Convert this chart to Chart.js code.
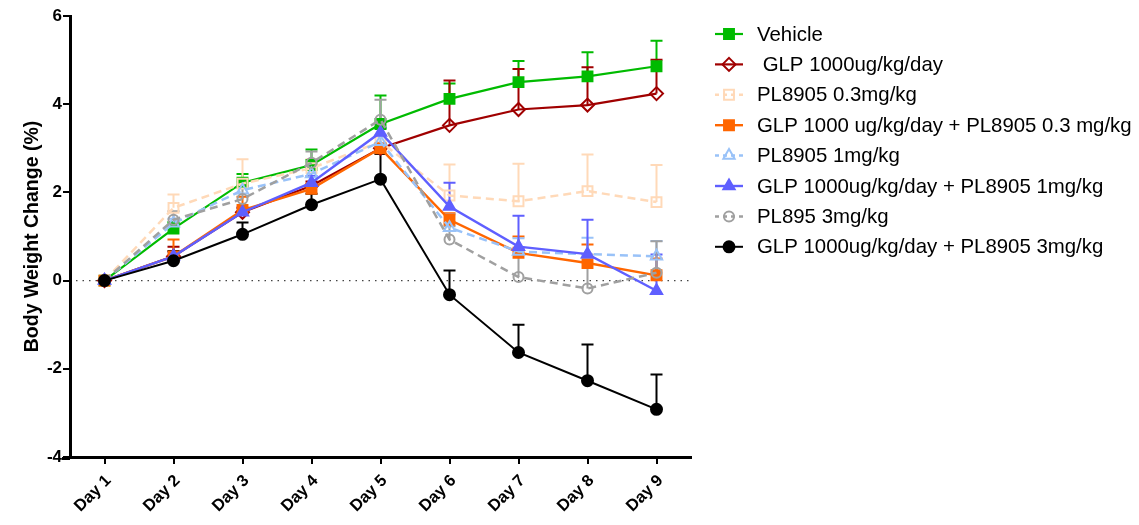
<!DOCTYPE html>
<html><head><meta charset="utf-8">
<script src="https://cdn.jsdelivr.net/npm/chart.js@4/dist/chart.umd.min.js"></script>
<style>html,body{margin:0;padding:0;background:#fff;}#wrap{width:1139px;height:525px;position:relative;}</style>
</head><body><div id="wrap"><canvas id="c" width="1139" height="525"></canvas></div>
<script>
// ---- data ----
const categories = ['Day 1','Day 2','Day 3','Day 4','Day 5','Day 6','Day 7','Day 8','Day 9'];
const seriesNames = ['Vehicle',' GLP 1000ug/kg/day','PL8905 0.3mg/kg','GLP 1000 ug/kg/day + PL8905 0.3 mg/kg','PL8905 1mg/kg','GLP 1000ug/kg/day + PL8905 1mg/kg','PL895 3mg/kg','GLP 1000ug/kg/day + PL8905 3mg/kg'];
const vehicle      = [0, 1.18, 2.22, 2.62, 3.55, 4.12, 4.50, 4.63, 4.86];
const vehicleErr   = [0, 0.15, 0.20, 0.35, 0.65, 0.35, 0.48, 0.55, 0.58];
const glp          = [0, 0.55, 1.55, 2.15, 3.00, 3.52, 3.88, 3.98, 4.24];
const glpErr       = [0, 0.22, 0.10, 0.10, 0.10, 1.02, 0.92, 0.86, 0.77];
const pl03         = [0, 1.65, 2.20, 2.55, 3.15, 1.93, 1.80, 2.03, 1.78];
const pl03Err      = [0, 0.30, 0.55, 0.20, 0.30, 0.70, 0.85, 0.83, 0.84];
const glpPl03      = [0, 0.55, 1.60, 2.08, 3.00, 1.38, 0.63, 0.40, 0.12];
const glpPl03Err   = [0, 0.38, 0.30, 0.12, 0.10, 0.15, 0.37, 0.42, 0.38];
const pl1          = [0, 1.30, 2.05, 2.42, 3.15, 1.20, 0.66, 0.60, 0.55];
const pl1Err       = [0, 0.10, 0.20, 0.20, 0.15, 0.30, 0.30, 0.37, 0.35];
const glpPl1       = [0, 0.55, 1.55, 2.22, 3.36, 1.68, 0.77, 0.60, -0.23];
const glpPl1Err    = [0, 0.10, 0.10, 0.15, 0.10, 0.54, 0.70, 0.78, 0.82];
const pl3          = [0, 1.38, 1.85, 2.67, 3.65, 0.93, 0.08, -0.18, 0.18];
const pl3Err       = [0, 0.19, 0.30, 0.26, 0.45, 0.30, 0.62, 0.77, 0.71];
const glpPl3       = [0, 0.45, 1.05, 1.72, 2.30, -0.32, -1.63, -2.27, -2.92];
const glpPl3Err    = [0, 0.22, 0.27, 0.25, 0.57, 0.55, 0.63, 0.82, 0.79];
const yTicks = [-4, -2, 0, 2, 4, 6];

const seriesValues = [vehicle, glp, pl03, glpPl03, pl1, glpPl1, pl3, glpPl3];
const seriesErrors = [vehicleErr, glpErr, pl03Err, glpPl03Err, pl1Err, glpPl1Err, pl3Err, glpPl3Err];

// ---- styles ----
const styles = [
  {color:'#00bb00', dash:[], point:'rect', r:7, fill:true, lw:2.2},
  {color:'#a00000', dash:[], point:'rectRot', r:6.5, fill:false, lw:2.2},
  {color:'#ffd9b8', dash:[8,5], point:'rect', r:7, fill:false, lw:2.5},
  {color:'#ff6600', dash:[], point:'rect', r:7, fill:true, lw:2.4},
  {color:'#99c2f8', dash:[8,5], point:'triangle', r:6.5, fill:false, lw:2.5},
  {color:'#5f5fff', dash:[], point:'triangle', r:6.5, fill:true, lw:2.4},
  {color:'#a0a0a0', dash:[8,5], point:'circle', r:5, fill:false, lw:2.5},
  {color:'#000000', dash:[], point:'circle', r:5.5, fill:true, lw:2}
];

const FONT = "'Liberation Sans', Arial, sans-serif";

const datasets = seriesValues.map((vals, i) => {
  const s = styles[i];
  return {
    label: seriesNames[i],
    data: vals,
    borderColor: s.color,
    backgroundColor: s.fill ? s.color : 'rgba(255,255,255,0)',
    borderWidth: s.lw,
    borderDash: s.dash,
    pointStyle: s.point,
    pointRadius: s.r,
    pointHoverRadius: s.r,
    pointBorderWidth: 2,
    pointBorderColor: s.color,
    pointBackgroundColor: s.fill ? s.color : 'rgba(255,255,255,0)',
    tension: 0,
    fill: false,
    clip: false,
    order: seriesValues.length - i
  };
});

function drawMarker(ctx, style, x, y, r, color, fill) {
  ctx.save();
  ctx.setLineDash([]);
  ctx.lineWidth = 2;
  ctx.strokeStyle = color;
  ctx.fillStyle = color;
  ctx.beginPath();
  if (style === 'rect') {
    const s = Math.SQRT1_2 * r;
    ctx.rect(x - s, y - s, 2 * s, 2 * s);
  } else if (style === 'rectRot') {
    ctx.moveTo(x, y - r); ctx.lineTo(x + r, y); ctx.lineTo(x, y + r); ctx.lineTo(x - r, y); ctx.closePath();
  } else if (style === 'triangle') {
    for (let k = 0; k < 3; k++) {
      const a = k * 2 * Math.PI / 3;
      const px = x + Math.sin(a) * r, py = y - Math.cos(a) * r;
      if (k === 0) ctx.moveTo(px, py); else ctx.lineTo(px, py);
    }
    ctx.closePath();
  } else {
    ctx.arc(x, y, r, 0, Math.PI * 2);
  }
  if (fill) ctx.fill();
  ctx.stroke();
  ctx.restore();
}

const extras = {
  id: 'extras',
  beforeDatasetsDraw(chart) {
    const {ctx, chartArea, scales} = chart;
    const xs = scales.x, ys = scales.y;
    const y0 = ys.getPixelForValue(0);
    ctx.save();
    ctx.strokeStyle = '#444';
    ctx.lineWidth = 1.3;
    ctx.setLineDash([1.5, 5]);
    ctx.beginPath();
    ctx.moveTo(chartArea.left + 6, y0);
    ctx.lineTo(chartArea.right, y0);
    ctx.stroke();
    ctx.restore();
    seriesValues.forEach((vals, i) => {
      const errs = seriesErrors[i];
      const col = styles[i].color;
      ctx.save();
      ctx.strokeStyle = col;
      ctx.lineWidth = 2;
      ctx.setLineDash([]);
      vals.forEach((v, j) => {
        const e = errs[j];
        if (!e) return;
        const x = xs.getPixelForValue(j);
        const yA = ys.getPixelForValue(v);
        const yB = ys.getPixelForValue(v + e);
        ctx.beginPath();
        ctx.moveTo(x, yA); ctx.lineTo(x, yB);
        ctx.moveTo(x - 6, yB); ctx.lineTo(x + 6, yB);
        ctx.stroke();
      });
      ctx.restore();
    });
  },
  afterDraw(chart) {
    const {ctx, chartArea} = chart;
    ctx.save();
    ctx.strokeStyle = '#000';
    ctx.lineWidth = 3;
    ctx.beginPath();
    ctx.moveTo(chartArea.left - 8, chartArea.bottom + 1.5);
    ctx.lineTo(chartArea.left, chartArea.bottom + 1.5);
    ctx.stroke();
    ctx.restore();

    const x0 = 715, x1 = 743, tx = 757, top = 34, step = 30.4;
    ctx.save();
    ctx.font = "20.4px " + FONT;
    ctx.textBaseline = 'middle';
    ctx.fillStyle = '#000';
    seriesNames.forEach((name, i) => {
      const s = styles[i];
      const y = top + i * step;
      ctx.save();
      ctx.strokeStyle = s.color;
      ctx.lineWidth = s.lw;
      ctx.setLineDash(s.dash.length ? [4, 4] : []);
      ctx.beginPath();
      ctx.moveTo(x0, y); ctx.lineTo(x1, y);
      ctx.stroke();
      ctx.restore();
      drawMarker(ctx, s.point, (x0 + x1) / 2, y, s.r, s.color, s.fill);
      ctx.fillStyle = '#000';
      ctx.fillText(name, tx, y + 1);
    });
    ctx.restore();
  }
};

new Chart(document.getElementById('c'), {
  type: 'line',
  data: { labels: categories, datasets },
  plugins: [extras],
  options: {
    responsive: false,
    devicePixelRatio: 1,
    animation: false,
    layout: { padding: { left: 19, right: 448, top: 16, bottom: 0 } },
    plugins: { legend: { display: false }, tooltip: { enabled: false } },
    scales: {
      x: {
        type: 'category',
        offset: true,
        grid: { display: true, drawOnChartArea: false, drawTicks: true, tickLength: 7, color: '#000', lineWidth: 2, offset: false },
        border: { display: true, color: '#000', width: 3 },
        ticks: { color: '#000', font: { family: FONT, size: 16.5, weight: 'bold' }, maxRotation: 45, minRotation: 45, padding: 7, labelOffset: 4 },
        afterFit(scale) { scale.height = 68; }
      },
      y: {
        min: -4, max: 6,
        afterBuildTicks(scale) { scale.ticks = yTicks.map(v => ({ value: v })); },
        grid: { display: true, drawOnChartArea: false, drawTicks: true, tickLength: 7, color: '#000', lineWidth: 2 },
        border: { display: true, color: '#000', width: 3 },
        ticks: { color: '#000', font: { family: FONT, size: 17, weight: 'bold' }, padding: 1 },
        title: { display: true, text: 'Body Weight Change (%)', color: '#000', font: { family: FONT, size: 19.5, weight: 'bold' }, padding: { top: 2, bottom: 2 } },
        afterFit(scale) { scale.width = 51; }
      }
    }
  }
});
</script></body></html>
